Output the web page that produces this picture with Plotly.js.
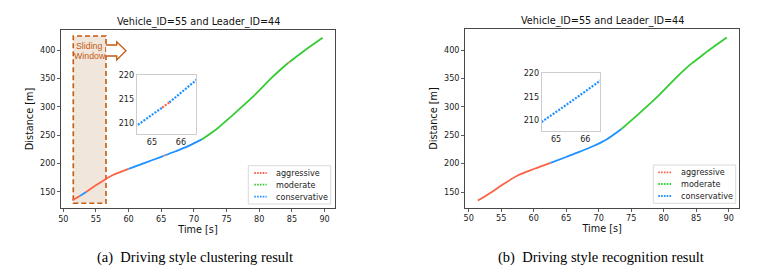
<!DOCTYPE html>
<html>
<head>
<meta charset="utf-8">
<script src="https://cdn.plot.ly/plotly-3.0.1.min.js"></script>
<style>html,body{margin:0;padding:0;background:#fff}#chart{width:779px;height:273px}</style>
</head>
<body>
<div id="chart"></div>
<script>
// ---- data ----
const time = [51.4, 52.6, 53.5, 55.3, 57.6, 60.0, 62.6, 65.0, 65.35, 65.6, 67.2, 69.2, 71.2, 73.5, 75.9, 79.0, 82.0, 84.4, 84.6, 87.0, 89.7];
const distance = [135, 143, 149.5, 163.5, 179.5, 190.5, 201.5, 211.7, 213.3, 214.4, 221.5, 231, 242.5, 261, 285, 317.5, 352.5, 377.5, 379, 400, 422];
// style of each stretch between consecutive readings
const clusteringStyle = ['aggressive','conservative','aggressive','aggressive','aggressive','conservative','conservative','conservative','aggressive','conservative','conservative','conservative','moderate','moderate','moderate','moderate','moderate','aggressive','moderate','moderate'];
const recognitionStyle = ['aggressive','aggressive','aggressive','aggressive','aggressive','aggressive','conservative','conservative','conservative','conservative','conservative','conservative','conservative','moderate','moderate','moderate','moderate','moderate','moderate','moderate'];
const styleNames = ['aggressive', 'moderate', 'conservative'];
const styleColors = ['#fa6347', '#33cc33', '#1e90ff'];
const xTicks = [50, 55, 60, 65, 70, 75, 80, 85, 90];
const yTicks = [150, 200, 250, 300, 350, 400];
const insetXTicks = [65, 66];
const insetYTicks = [210, 215, 220];
const plotTitle = 'Vehicle_ID=55 and Leader_ID=44';
const captions = ['(a)\u00a0\u00a0Driving style clustering result', '(b)\u00a0\u00a0Driving style recognition result'];

// ---- helpers ----
const W = 779, H = 273;
const px = v => v / W;
const py = v => 1 - v / H;
const colorOf = s => styleColors[styleNames.indexOf(s)];

function segmentTraces(labels, xa, ya, line) {
  const traces = [];
  const n = time.length;
  let start = 0;
  for (let i = 1; i <= n - 1; i++) {
    if (i === n - 1 || labels[i] !== labels[start]) {
      traces.push({
        type: 'scatter', mode: 'lines', xaxis: xa, yaxis: ya,
        x: time.slice(start, i + 1), y: distance.slice(start, i + 1),
        line: Object.assign({color: colorOf(labels[start])}, line),
        showlegend: false, hoverinfo: 'skip'
      });
      start = i;
    }
  }
  return traces;
}

const mainLine = {width: 1.8, shape: 'spline', smoothing: 0.8};
const insetLine = {width: 2.2, dash: '2px,1.4px'};
const data = [].concat(
  segmentTraces(clusteringStyle, 'x', 'y', mainLine),
  segmentTraces(clusteringStyle, 'x2', 'y2', insetLine),
  segmentTraces(recognitionStyle, 'x3', 'y3', mainLine),
  segmentTraces(recognitionStyle, 'x4', 'y4', insetLine)
);

const tickFont = {family: 'DejaVu Sans', size: 8.1, color: '#222'};
const labelFont = {family: 'DejaVu Sans', size: 9.7, color: '#111'};

function mainX(domain, range, anchor) {
  return {domain, range, anchor, tickvals: xTicks, ticks: 'outside', ticklen: 3, tickwidth: 0.8, tickcolor: '#333',
    showline: true, linecolor: '#333', linewidth: 0.9, mirror: true, showgrid: false, zeroline: false,
    tickfont: tickFont, automargin: false, title: {text: 'Time [s]', font: labelFont, standoff: 2}};
}
function mainY(domain, range, anchor) {
  return {domain, range, anchor, tickvals: yTicks, ticks: 'outside', ticklen: 3, tickwidth: 0.8, tickcolor: '#333',
    showline: true, linecolor: '#333', linewidth: 0.9, mirror: true, showgrid: false, zeroline: false,
    tickfont: tickFont, automargin: false, title: {text: 'Distance [m]', font: labelFont, standoff: 4}};
}
function insetX(domain, range, anchor) {
  return {domain, range, anchor, tickvals: insetXTicks, ticks: '', showline: true, linecolor: '#c8c8c8', linewidth: 0.9,
    mirror: true, showgrid: false, zeroline: false, tickfont: tickFont, automargin: false};
}
function insetY(domain, range, anchor) {
  return {domain, range, anchor, tickvals: insetYTicks, ticks: '', showline: true, linecolor: '#c8c8c8', linewidth: 0.9,
    mirror: true, showgrid: false, zeroline: false, tickfont: tickFont, automargin: false};
}

const shapes = [];
const annotations = [];

// sliding window (left panel)
shapes.push({type: 'rect', xref: 'x', yref: 'y', x0: 51.53, x1: 56.54, y0: 129.5, y1: 425.3, layer: 'below',
  fillcolor: '#f0e6db', line: {color: '#c55a11', width: 1.6, dash: '5px,3px'}});
shapes.push({type: 'path', xref: 'x', yref: 'y', layer: 'above',
  path: 'M 56.54,409.4 L 58.18,409.4 L 58.18,415.2 L 59.61,399.3 L 58.18,382.9 L 58.18,389.9 L 56.54,389.9',
  fillcolor: 'rgba(255,255,255,0.9)', line: {color: '#c55a11', width: 1.3}});
annotations.push({xref: 'paper', yref: 'paper', x: px(89), y: py(46), text: 'Sliding', showarrow: false,
  xanchor: 'center', yanchor: 'middle', font: {family: 'Liberation Sans', size: 8.8, color: '#c55a11'}});
annotations.push({xref: 'paper', yref: 'paper', x: px(90), y: py(56.5), text: 'Window', showarrow: false,
  xanchor: 'center', yanchor: 'middle', font: {family: 'Liberation Sans', size: 8.8, color: '#c55a11'}});

// titles and captions
[[198, 22, captions[0], 195.5], [602, 21.5, captions[1], 600.5]].forEach(([cx, ty, cap, capx]) => {
  annotations.push({xref: 'paper', yref: 'paper', x: px(cx), y: py(ty), text: plotTitle, showarrow: false,
    xanchor: 'center', yanchor: 'middle', font: labelFont});
  annotations.push({xref: 'paper', yref: 'paper', x: px(capx), y: py(257), text: cap, showarrow: false,
    xanchor: 'center', yanchor: 'middle', font: {family: 'Liberation Serif', size: 14.5, color: '#000'}});
});

// legends drawn by hand
function legend(box, rows, hx0, hx1, tx) {
  shapes.push({type: 'rect', xref: 'paper', yref: 'paper', x0: px(box[0]), x1: px(box[1]), y0: py(box[3]), y1: py(box[2]),
    fillcolor: 'rgba(255,255,255,0.85)', line: {color: '#d6d6d6', width: 0.9}});
  styleNames.forEach((name, k) => {
    shapes.push({type: 'line', xref: 'paper', yref: 'paper', x0: px(hx0), x1: px(hx1), y0: py(rows[k]), y1: py(rows[k]),
      line: {color: styleColors[k], width: 1.8, dash: '1.6px,1.2px'}});
    annotations.push({xref: 'paper', yref: 'paper', x: px(tx), y: py(rows[k]), text: name, showarrow: false,
      xanchor: 'left', yanchor: 'middle', font: tickFont});
  });
}
legend([248.3, 330.7, 165.7, 204], [173, 184.7, 196.7], 254.3, 266.7, 274);
legend([653.3, 735.7, 165, 203.3], [172.3, 184, 196], 658.3, 671.7, 679);

const layout = {
  width: W, height: H, margin: {l: 0, r: 0, t: 0, b: 0},
  paper_bgcolor: '#ffffff', plot_bgcolor: '#ffffff', showlegend: false,
  font: {family: 'DejaVu Sans', color: '#222'},
  xaxis: mainX([px(61), px(335)], [49.65, 91.6], 'y'),
  yaxis: mainY([py(208), py(30)], [121.2, 435.9], 'x'),
  xaxis2: insetX([px(136.7), px(196)], [64.47, 66.52], 'y2'),
  yaxis2: insetY([py(134), py(75.3)], [207.8, 220.05], 'x2'),
  xaxis3: mainX([px(465), px(739.3)], [49.43, 91.63], 'y3'),
  yaxis3: mainY([py(207.7), py(29.3)], [122.4, 436.6], 'x3'),
  xaxis4: insetX([px(541.7), px(600)], [64.51, 66.5], 'y4'),
  yaxis4: insetY([py(131), py(73)], [207.8, 220.05], 'x4'),
  shapes, annotations
};

Plotly.newPlot('chart', data, layout, {staticPlot: true, displayModeBar: false});
</script>
</body>
</html>
